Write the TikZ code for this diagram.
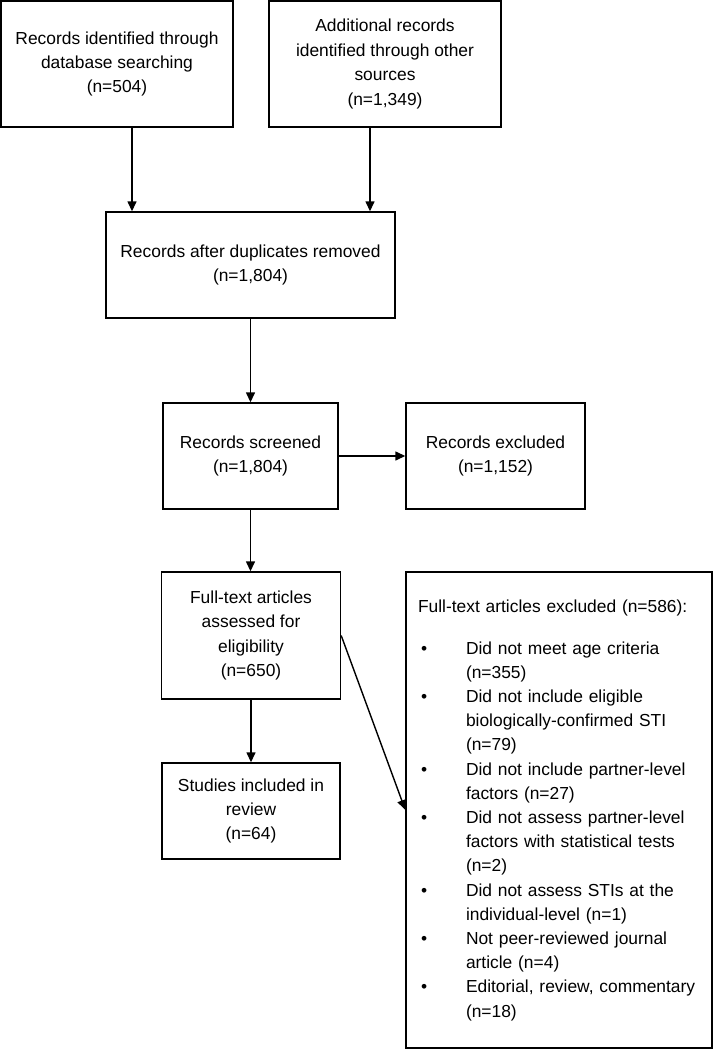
\documentclass[tikz,border=0pt]{standalone}
\usepackage{fontspec}
\setmainfont{Liberation Sans}
\usetikzlibrary{arrows.meta}
\newcommand\pbul{\makebox[48pt][l]{\hspace{3pt}\textbullet}}
\newcommand\pind{\hspace*{48pt}}
\begin{document}
\begin{tikzpicture}[x=1pt,y=-1pt,
  box/.style={draw, line width=1.4pt, align=center, inner sep=0pt,
    font=\fontsize{17.4}{24.4}\selectfont},
  conn/.style={line width=1.4pt, -{Triangle[length=10pt,width=9pt]}}]
\useasboundingbox (0,0) rectangle (714,1050);
\node[box, minimum width=232pt, minimum height=126pt] (b1) at (117,64)
  {Records identified through\\database searching\\(n=504)};
\node[box, minimum width=232pt, minimum height=126pt] (b2) at (385,64)
  {Additional records\\identified through other\\sources\\(n=1,349)};
\node[box, minimum width=289pt, minimum height=106pt] (b3) at (250.5,265)
  {Records after duplicates removed\\(n=1,804)};
\node[box, minimum width=175pt, minimum height=106pt] (sc) at (250.5,456)
  {Records screened\\(n=1,804)};
\node[box, minimum width=179pt, minimum height=106pt] (ex) at (495.5,456)
  {Records excluded\\(n=1,152)};
\node[box, minimum width=179pt, minimum height=127pt] (ft) at (251,635.5)
  {Full-text articles\\assessed for\\eligibility\\(n=650)};
\node[box, minimum width=178pt, minimum height=96pt] (st) at (251,811)
  {Studies included in\\review\\(n=64)};
\node[box, minimum width=306pt, minimum height=476pt, text width=282pt,
  align=left, font=\fontsize{17.4}{24.2}\selectfont] (big) at (559,810)
  {Full-text articles excluded (n=586):\\[17.8pt]
   \pbul Did not meet age criteria\\
   \pind (n=355)\\
   \pbul Did not include eligible\\
   \pind biologically-confirmed STI\\
   \pind (n=79)\\
   \pbul Did not include partner-level\\
   \pind factors (n=27)\\
   \pbul Did not assess partner-level\\
   \pind factors with statistical tests\\
   \pind (n=2)\\
   \pbul Did not assess STIs at the\\
   \pind individual-level (n=1)\\
   \pbul Not peer-reviewed journal\\
   \pind article (n=4)\\
   \pbul Editorial, review, commentary\\
   \pind (n=18)};
\draw[conn] ([xshift=15pt]b1.south) -- ([xshift=15pt]b1.south |- b3.north);
\draw[conn] ([xshift=-15pt]b2.south) -- ([xshift=-15pt]b2.south |- b3.north);
\draw[conn] (b3.south) -- (sc.north);
\draw[conn] (sc.east) -- (ex.west);
\draw[conn] (sc.south) -- (sc.south |- ft.north);
\draw[conn] (ft.south) -- (ft.south |- st.north);
\draw[conn] (ft.east) -- (big.west);
\end{tikzpicture}
\end{document}
